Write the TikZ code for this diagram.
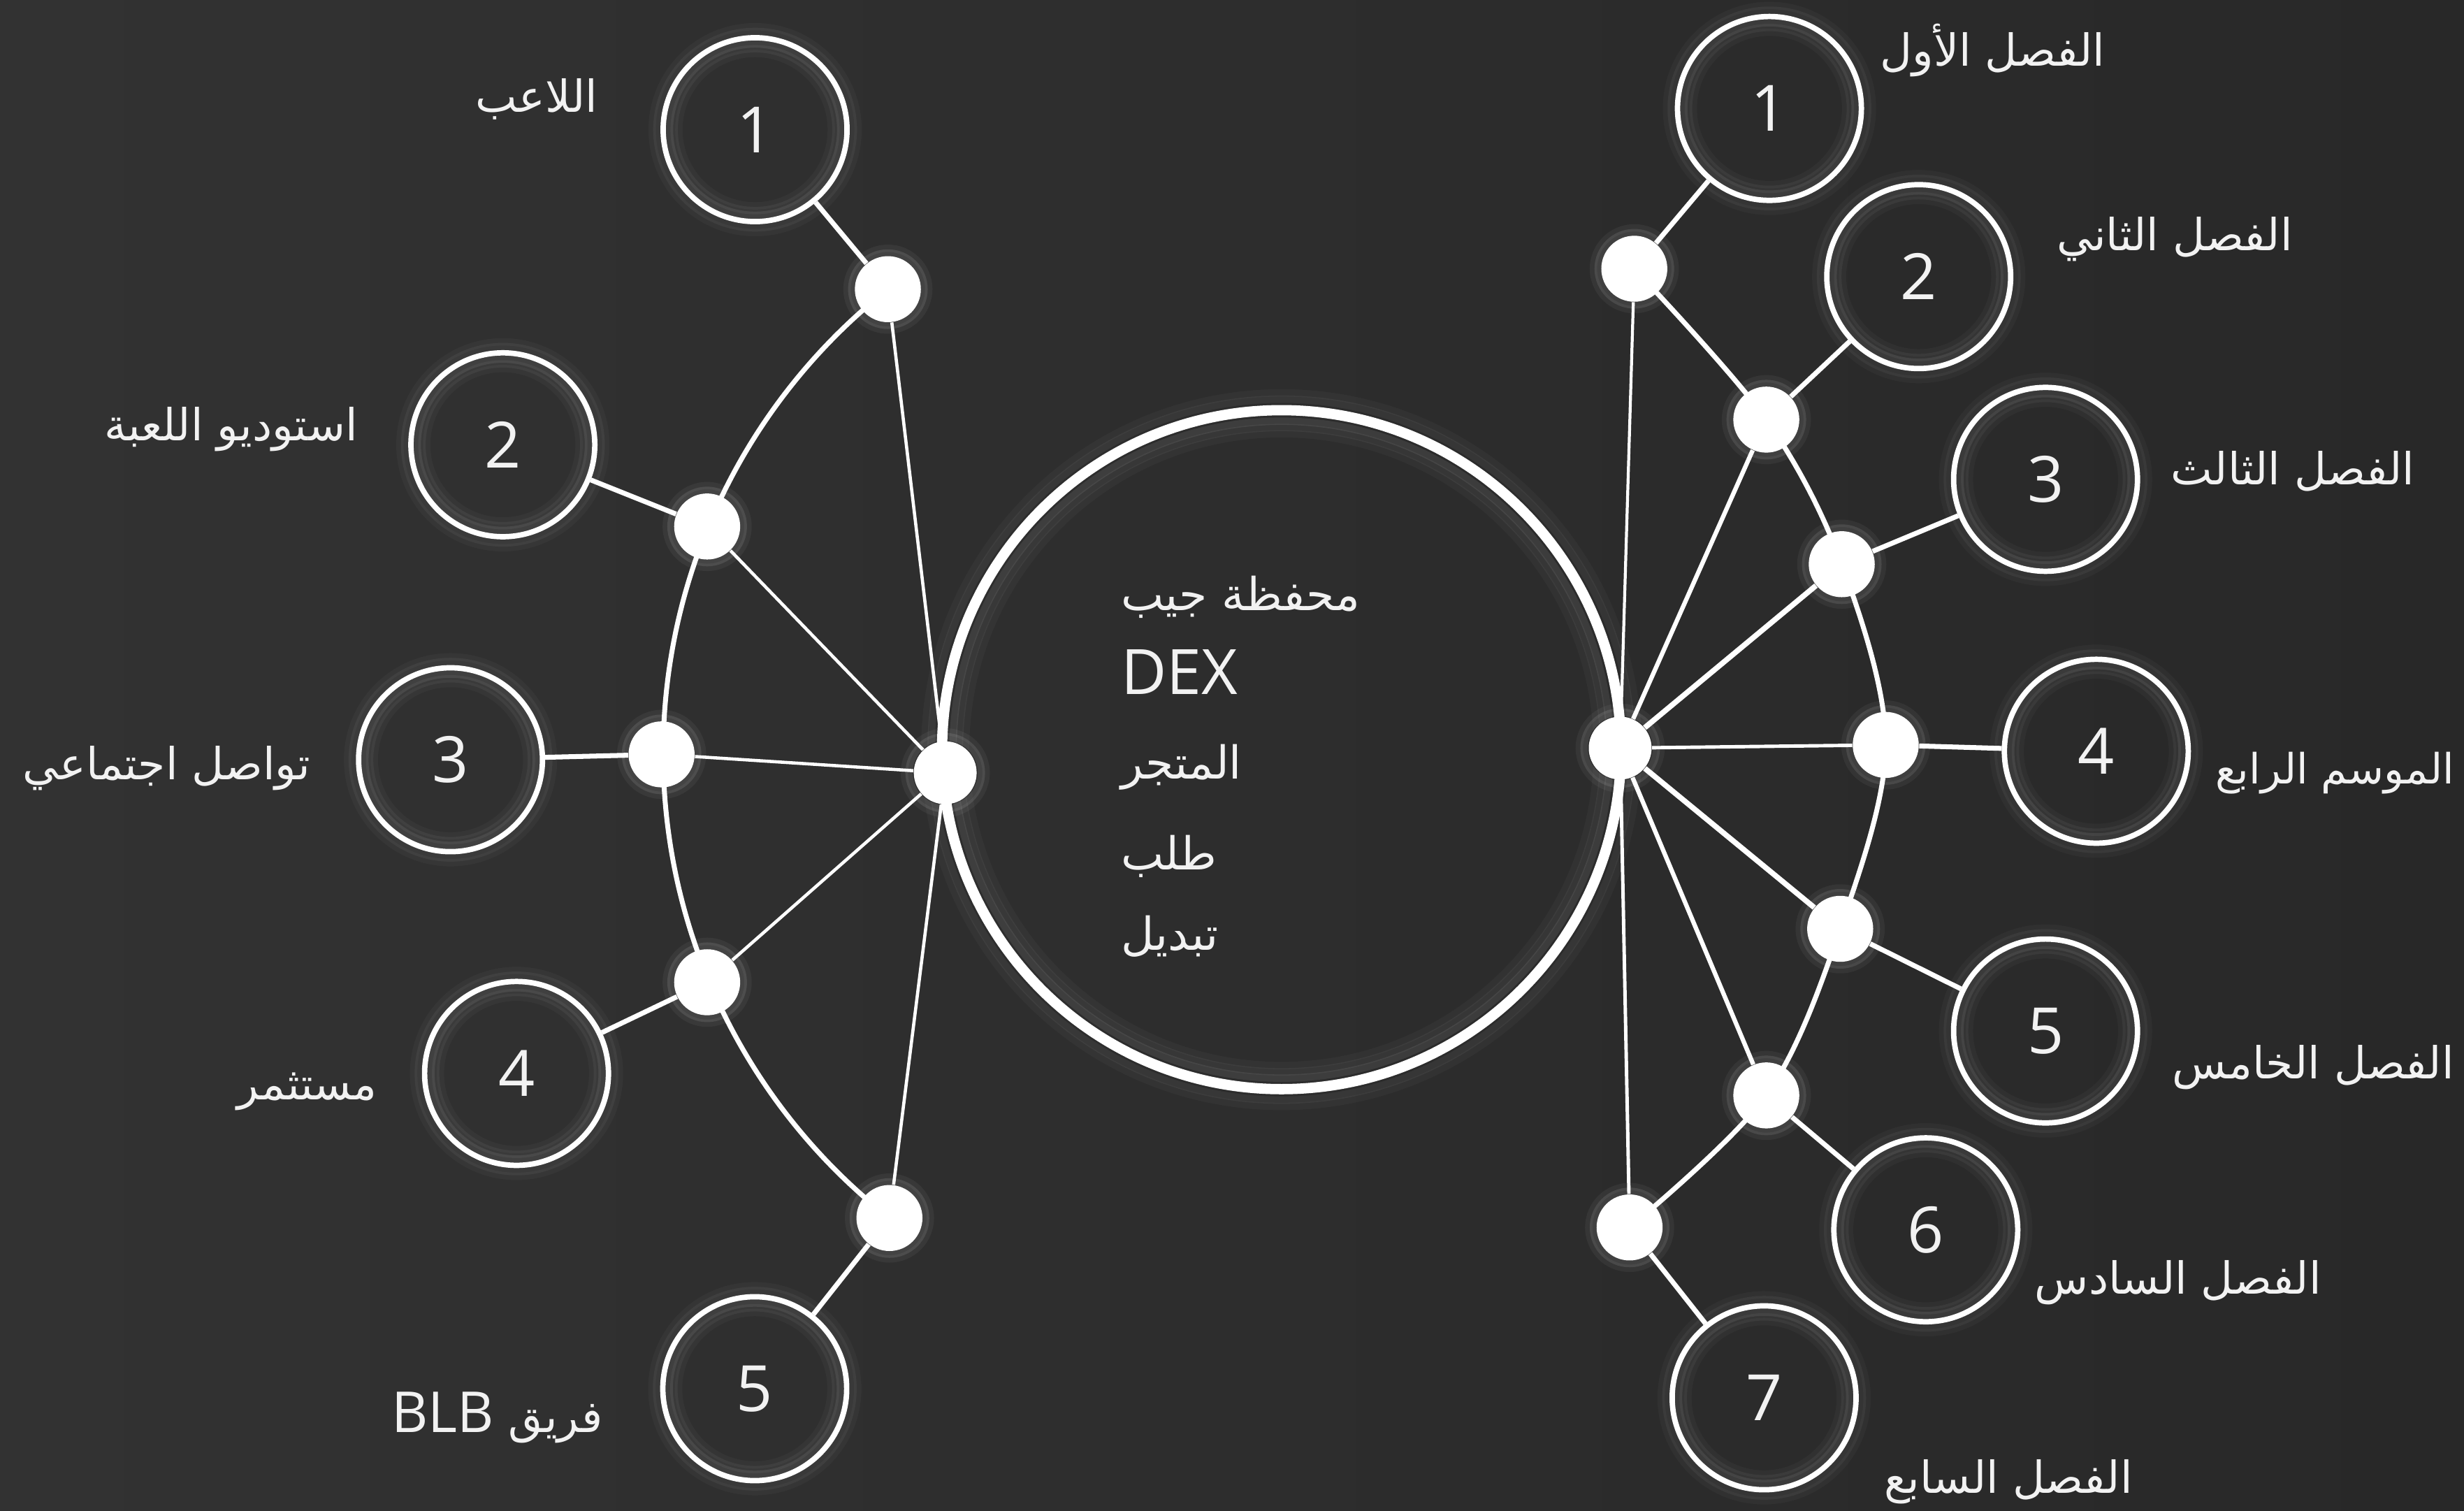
\documentclass[tikz,border=0pt]{standalone}
\usepackage{fontspec}
\setmainfont{Open Sans}
\newfontfamily\arabicfont[Script=Arabic]{DejaVu Sans}
\TeXXeTstate=1
\usetikzlibrary{calc}
\definecolor{bgL}{HTML}{323232}
\definecolor{bgR}{HTML}{282828}
\definecolor{txt}{HTML}{F2F2F2}
\newcommand{\ar}[1]{{\arabicfont\beginR #1\endR}}
\begin{document}
\begin{tikzpicture}[x=0.022487cm,y=-0.022487cm,
  numc/.style={circle, draw=white, line width=2.2pt, minimum size=117*0.022487cm, inner sep=0pt, text=txt, font=\fontsize{26}{30}\selectfont},
  dotn/.style={circle, fill=white, draw=none, minimum size=42*0.022487cm, inner sep=0pt},
  hubn/.style={circle, fill=white, draw=none, minimum size=40*0.022487cm, inner sep=0pt},
  bigc/.style={circle, draw=white, line width=4.2pt, minimum size=432*0.022487cm, inner sep=0pt},
  link/.style={draw=white, line width=2pt},
  spoke/.style={draw=white, line width=1.3pt},
  lbl/.style={text=txt, inner sep=0pt, font=\arabicfont\fontsize{18}{22}\selectfont},
  ctxt/.style={text=txt, inner sep=0pt, anchor=west, font=\arabicfont\fontsize{18.5}{22}\selectfont},
  glowa/.style={draw=white, opacity=0.08, line width=3pt},
  glowb/.style={draw=white, opacity=0.05, line width=3pt},
  glowc/.style={draw=white, opacity=0.03, line width=3pt},
]
\shade[left color=bgL, right color=bgR] (0,0) rectangle (1568,961);
\useasboundingbox (0,0) rectangle (1568,961);

% central circle
\node[bigc] (big) at (815.5,477) {};
\draw[glowa] (big.center) circle[radius=209];
\draw[glowb] (big.center) circle[radius=205];
\draw[glowc] (big.center) circle[radius=201];
\draw[glowb] (big.center) circle[radius=223];
\draw[glowc] (big.center) circle[radius=227];

% left numbered circles
\node[numc] (L1) at (480.5,82.5) {1};
\node[numc] (L2) at (320,283) {2};
\node[numc] (L3) at (286.7,483.4) {3};
\node[numc] (L4) at (328.7,683) {4};
\node[numc] (L5) at (480.3,883.6) {5};
% right numbered circles
\node[numc] (R1) at (1126,69) {1};
\node[numc] (R2) at (1221,176) {2};
\node[numc] (R3) at (1301.7,305) {3};
\node[numc] (R4) at (1334,478) {4};
\node[numc] (R5) at (1301.7,656) {5};
\node[numc] (R6) at (1225.5,782.5) {6};
\node[numc] (R7) at (1122.6,889.4) {7};

\foreach \c in {L1,L2,L3,L4,L5,R1,R2,R3,R4,R5,R6,R7}{
  \draw[glowa] (\c.center) circle[radius=54.5];
  \draw[glowb] (\c.center) circle[radius=51.5];
  \draw[glowc] (\c.center) circle[radius=48.5];
  \draw[glowb] (\c.center) circle[radius=62.5];
  \draw[glowc] (\c.center) circle[radius=65.5];
}

% left dots and hub
\node[dotn] (ld1) at (565,184) {};
\node[dotn] (ld2) at (450,335) {};
\node[dotn] (ld3) at (421,480) {};
\node[dotn] (ld4) at (450,625) {};
\node[dotn] (ld5) at (566,775) {};
\node[hubn] (hl) at (601.5,491.7) {};
% right dots and hub
\node[dotn] (rd1) at (1040,171) {};
\node[dotn] (rd2) at (1124,267) {};
\node[dotn] (rd3) at (1172,359) {};
\node[dotn] (rd4) at (1200,474) {};
\node[dotn] (rd5) at (1171,591) {};
\node[dotn] (rd6) at (1124,697) {};
\node[dotn] (rd7) at (1037,781) {};
\node[hubn] (hr) at (1031,476) {};

\foreach \d in {ld1,ld2,ld3,ld4,ld5,rd1,rd2,rd3,rd4,rd5,rd6,rd7,hl,hr}{
  \draw[draw=white, opacity=0.10, line width=3pt] (\d.center) circle[radius=23];
  \draw[draw=white, opacity=0.05, line width=3pt] (\d.center) circle[radius=26];
}

% arcs through the dots
\draw[link] (ld5.center) arc[start angle=128.1, end angle=231.9, radius=376];
\draw[link] plot[smooth, tension=0.55] coordinates {(rd1.center) (rd2.center) (rd3.center) (rd4.center) (rd5.center) (rd6.center) (rd7.center)};

% dot to numbered circle
\draw[link] (ld1) -- (L1);
\draw[link] (ld2) -- (L2);
\draw[link] (ld3) -- (L3);
\draw[link] (ld4) -- (L4);
\draw[link] (ld5) -- (L5);
\draw[link] (rd1) -- (R1);
\draw[link] (rd2) -- (R2);
\draw[link] (rd3) -- (R3);
\draw[link] (rd4) -- (R4);
\draw[link] (rd5) -- (R5);
\draw[link] (rd6) -- (R6);
\draw[link] (rd7) -- (R7);

% hub spokes
\draw[spoke] (hl) -- (ld1);
\draw[spoke] (hl) -- (ld2);
\draw[spoke] (hl) -- (ld3);
\draw[spoke] (hl) -- (ld4);
\draw[spoke] (hl) -- (ld5);
\draw[spoke, line width=1.2pt] (hr) -- (rd1);
\draw[spoke, line width=1.8pt] (hr) -- (rd2);
\draw[spoke, line width=2.2pt] (hr) -- (rd3);
\draw[spoke, line width=1.4pt] (hr) -- (rd4);
\draw[spoke, line width=2.2pt] (hr) -- (rd5);
\draw[spoke, line width=1.8pt] (hr) -- (rd6);
\draw[spoke, line width=1.4pt] (hr) -- (rd7);

% labels left
\node[lbl] (tL1) at (341.5,63) {\ar{اللاعب}};
\node[lbl] (tL2) at (147,273) {\ar{استوديو اللعبة}};
\node[lbl] (tL3) at (106,489) {\ar{تواصل اجتماعي}};
\node[lbl] (tL4) at (195.5,694.5) {\ar{مستثمر}};
\node[lbl, anchor=east] (tL5) at (384,902) {\ar{فريق \beginL{\rmfamily\fontsize{23}{26}\selectfont BLB}\endL}};
% labels right
\node[lbl] (tR1) at (1268,32) {\ar{الفصل الأول}};
\node[lbl] (tR2) at (1384,152) {\ar{الفصل الثاني}};
\node[lbl] (tR3) at (1459,300) {\ar{الفصل الثالث}};
\node[lbl, anchor=east, font=\arabicfont\fontsize{17}{21}\selectfont] (tR4) at (1562,492) {\ar{الموسم الرابع}};
\node[lbl] (tR5) at (1472,679) {\ar{الفصل الخامس}};
\node[lbl] (tR6) at (1386,816) {\ar{الفصل السادس}};
\node[lbl] (tR7) at (1278,943) {\ar{الفصل السابع}};

% central text
\node[ctxt] (c1) at (713,380) {\ar{محفظة جيب}};
\node[ctxt, font=\fontsize{25.5}{30}\selectfont] (c2) at (713,427.5) {DEX};
\node[ctxt] (c3) at (713,488) {\ar{المتجر}};
\node[ctxt] (c4) at (713,545) {\ar{طلب}};
\node[ctxt] (c5) at (713,596) {\ar{تبديل}};
\end{tikzpicture}
\end{document}
